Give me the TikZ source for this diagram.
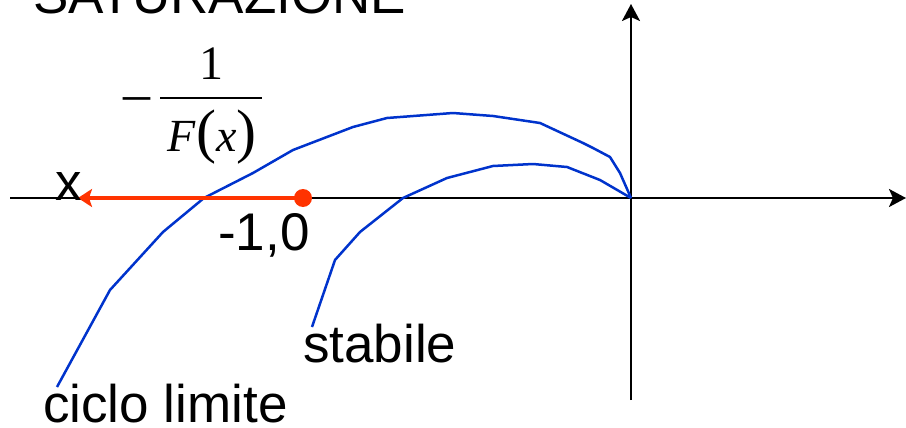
\documentclass[tikz,border=0pt]{standalone}
\usepackage{fontspec}
\setmainfont{Liberation Sans}
\newfontfamily\fracfont{Liberation Serif}
\usepackage{tikz}
\usetikzlibrary{arrows.meta,positioning}
\definecolor{satred}{HTML}{FF3300}
\definecolor{satblue}{HTML}{0033CC}

\begin{document}
\begin{tikzpicture}[
    x=1pt, y=-1pt,
    every node/.style={inner sep=0pt, font=\fontsize{53}{60}\selectfont},
    axis/.style={-{Stealth[length=17pt, width=18pt, inset=4pt]}, line width=2.5pt, black},
    curve/.style={line width=2.5pt, satblue, line join=round},
    redarrow/.style={-{Stealth[length=14pt, width=18pt, inset=3pt]}, line width=4.5pt, satred},
    label/.style={anchor=base west},
    fracpart/.style={anchor=base, font=\fracfont\fontsize{46}{50}\selectfont}
]
    \useasboundingbox (0,0) rectangle (906,428);

    % axes
    \coordinate (O) at (631,198);
    \coordinate (xmin) at (10,198);
    \coordinate (xmax) at (906,198);
    \coordinate (ymin) at (631,400);
    \coordinate (ymax) at (631,4);
    \draw[axis] (xmin) -- (xmax);
    \draw[axis] (ymin) -- (ymax);

    % title
    \node[label] (title) at (33,14) {SATURAZIONE};

    % -1/F(x)
    \node[fracpart, font=\fracfont\fontsize{54}{56}\selectfont] (minus) at (137,111) {–};
    \node[fracpart, font=\fracfont\fontsize{48}{50}\selectfont] (num) at (211,80) {1};
    \node[fracpart] (den) at (212,151) {\textit{F}{\fontsize{60}{60}\selectfont(}\textit{x}{\fontsize{60}{60}\selectfont)}};
    \coordinate (barl) at (160,98);
    \coordinate (barr) at (262,98);
    \draw[line width=1.5pt] (barl) -- (barr);

    % ciclo limite curve
    \draw[curve] (57,387) -- (110,290) -- (163,232) -- (204,198) -- (253,173)
        -- (293,150) -- (353,127) -- (387,118) -- (453,113) -- (493,116)
        -- (540,123) -- (583,143) -- (593,148) -- (610,157) -- (620,173) -- (O);

    % stabile curve
    \draw[curve] (312,327) -- (335,260) -- (360,232) -- (403,198) -- (447,178)
        -- (493,166) -- (533,164) -- (567,167) -- (600,180) -- (O);

    % -1,0 point and arrow
    \node[circle, fill=satred, minimum size=18pt] (crit) at (303,198) {};
    \coordinate (xend) at (78,198);
    \draw[redarrow] (crit.center) -- (xend);

    % labels
    \node[label] (xlab) at (55,200) {x};
    \node[label] (critlab) at (218,250) {-1,0};
    \node[label] (stab) at (303,362) {stabile};
    \node[label] (ciclo) at (43,422) {ciclo limite};
\end{tikzpicture}
\end{document}
